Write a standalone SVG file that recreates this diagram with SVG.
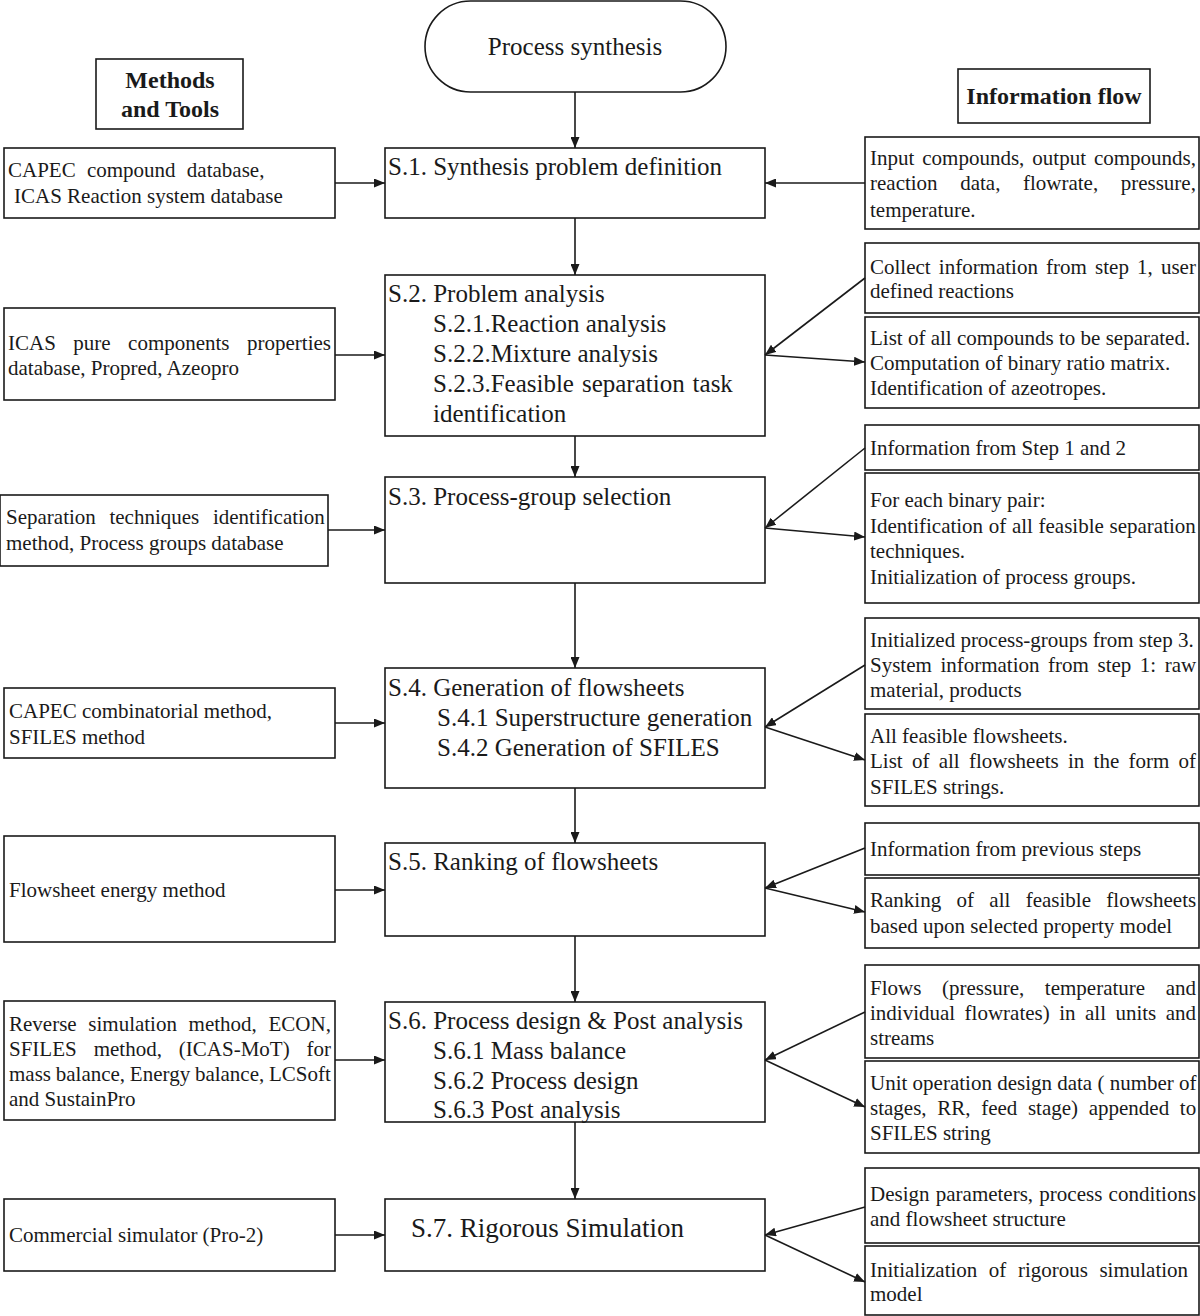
<svg xmlns="http://www.w3.org/2000/svg" width="1200" height="1316" viewBox="0 0 1200 1316">
<defs>
<marker id="ah" markerUnits="userSpaceOnUse" markerWidth="11" markerHeight="9" refX="11" refY="4.5" orient="auto">
<path d="M0,0 L11,4.5 L0,9 z" fill="#1a1a1a"/>
</marker>
<style>
rect, .term { fill: #fff; stroke: #1a1a1a; stroke-width: 1.6; }
text { font-family: "Liberation Serif", "Times New Roman", serif; fill: #1a1a1a; }
.main { font-size: 25px; }
.s7 { font-size: 27px; }
.side { font-size: 21px; }
.title { font-size: 24px; font-weight: bold; }
.conn line { stroke: #1a1a1a; stroke-width: 1.6; marker-end: url(#ah); }
</style>
</defs>
<rect width="1200" height="1316" style="fill:#fff;stroke:none"/>

<g id="start">
<rect class="term" x="425" y="1" width="301" height="91" rx="45.5" ry="45.5"/>
<text class="main" x="575" y="55" text-anchor="middle">Process synthesis</text>
</g>
<g id="methods-title">
<rect x="96" y="59" width="147" height="70"/>
<text class="title" x="170" y="88" text-anchor="middle">Methods</text>
<text class="title" x="170" y="117" text-anchor="middle">and Tools</text>
</g>
<g id="info-title">
<rect x="958" y="69" width="192" height="54"/>
<text class="title" x="1054" y="104" text-anchor="middle">Information flow</text>
</g>

<g id="s1">
<rect x="385" y="148" width="380" height="70"/>
<text class="main" x="388" y="175">S.1. Synthesis problem definition</text>
</g>
<g id="s2">
<rect x="385" y="275" width="380" height="161"/>
<text class="main" x="388" y="302">S.2. Problem analysis</text>
<text class="main" x="433" y="332">S.2.1.Reaction analysis</text>
<text class="main" x="433" y="362">S.2.2.Mixture analysis</text>
<text class="main" x="433" y="392" word-spacing="1.7">S.2.3.Feasible separation task</text>
<text class="main" x="433" y="422">identification</text>
</g>
<g id="s3">
<rect x="385" y="477" width="380" height="106"/>
<text class="main" x="388" y="505">S.3. Process-group selection</text>
</g>
<g id="s4">
<rect x="385" y="668" width="380" height="120"/>
<text class="main" x="388" y="696">S.4. Generation of flowsheets</text>
<text class="main" x="437" y="726">S.4.1 Superstructure generation</text>
<text class="main" x="437" y="756">S.4.2 Generation of SFILES</text>
</g>
<g id="s5">
<rect x="385" y="843" width="380" height="93"/>
<text class="main" x="388" y="870">S.5. Ranking of flowsheets</text>
</g>
<g id="s6">
<rect x="385" y="1002" width="380" height="120"/>
<text class="main" x="388" y="1029">S.6. Process design &amp; Post analysis</text>
<text class="main" x="433" y="1059">S.6.1 Mass balance</text>
<text class="main" x="433" y="1089">S.6.2 Process design</text>
<text class="main" x="433" y="1118">S.6.3 Post analysis</text>
</g>
<g id="s7">
<rect x="385" y="1199" width="380" height="72"/>
<text class="s7" x="411" y="1237">S.7. Rigorous Simulation</text>
</g>

<g id="m1">
<rect x="4" y="148" width="331" height="70"/>
<text class="side" x="8" y="177" word-spacing="6">CAPEC compound database,</text>
<text class="side" x="14" y="203">ICAS Reaction system database</text>
</g>
<g id="m2">
<rect x="4" y="308" width="331" height="92"/>
<text class="side" x="8" y="350" word-spacing="12.2">ICAS pure components properties</text>
<text class="side" x="8" y="375">database, Propred, Azeopro</text>
</g>
<g id="m3">
<rect x="0" y="495" width="328" height="71"/>
<text class="side" x="6" y="524" word-spacing="8.4">Separation techniques identification</text>
<text class="side" x="6" y="550">method, Process groups database</text>
</g>
<g id="m4">
<rect x="4" y="688" width="331" height="70"/>
<text class="side" x="9" y="718">CAPEC combinatorial method,</text>
<text class="side" x="9" y="744">SFILES method</text>
</g>
<g id="m5">
<rect x="4" y="836" width="331" height="106"/>
<text class="side" x="9" y="897">Flowsheet energy method</text>
</g>
<g id="m6">
<rect x="4" y="1001" width="331" height="119"/>
<text class="side" x="9" y="1031" word-spacing="6.4">Reverse simulation method, ECON,</text>
<text class="side" x="9" y="1056" word-spacing="11.7">SFILES method, (ICAS-MoT) for</text>
<text class="side" x="9" y="1081" word-spacing="-0.5">mass balance, Energy balance, LCSoft</text>
<text class="side" x="9" y="1106">and SustainPro</text>
</g>
<g id="m7">
<rect x="4" y="1199" width="331" height="72"/>
<text class="side" x="9" y="1242">Commercial simulator (Pro-2)</text>
</g>

<g id="i1">
<rect x="865" y="137" width="334" height="92"/>
<text class="side" x="870" y="165" word-spacing="2.7">Input compounds, output compounds,</text>
<text class="side" x="870" y="190" word-spacing="17.3">reaction data, flowrate, pressure,</text>
<text class="side" x="870" y="217">temperature.</text>
</g>
<g id="i2a">
<rect x="865" y="243" width="334" height="70"/>
<text class="side" x="870" y="274" word-spacing="2.9">Collect information from step 1, user</text>
<text class="side" x="870" y="298">defined reactions</text>
</g>
<g id="i2b">
<rect x="865" y="317" width="334" height="91"/>
<text class="side" x="870" y="345">List of all compounds to be separated.</text>
<text class="side" x="870" y="370">Computation of binary ratio matrix.</text>
<text class="side" x="870" y="395">Identification of azeotropes.</text>
</g>
<g id="i3a">
<rect x="865" y="425" width="334" height="45"/>
<text class="side" x="870" y="455">Information from Step 1 and 2</text>
</g>
<g id="i3b">
<rect x="865" y="473" width="334" height="130"/>
<text class="side" x="870" y="507">For each binary pair:</text>
<text class="side" x="870" y="533" word-spacing="0.4">Identification of all feasible separation</text>
<text class="side" x="870" y="558">techniques.</text>
<text class="side" x="870" y="584">Initialization of process groups.</text>
</g>
<g id="i4a">
<rect x="865" y="618" width="334" height="91"/>
<text class="side" x="870" y="647">Initialized process-groups from step 3.</text>
<text class="side" x="870" y="672" word-spacing="3.3">System information from step 1: raw</text>
<text class="side" x="870" y="697">material, products</text>
</g>
<g id="i4b">
<rect x="865" y="714" width="334" height="92"/>
<text class="side" x="870" y="743">All feasible flowsheets.</text>
<text class="side" x="870" y="768" word-spacing="4">List of all flowsheets in the form of</text>
<text class="side" x="870" y="794">SFILES strings.</text>
</g>
<g id="i5a">
<rect x="865" y="823" width="334" height="52"/>
<text class="side" x="870" y="856">Information from previous steps</text>
</g>
<g id="i5b">
<rect x="865" y="878" width="334" height="70"/>
<text class="side" x="870" y="907" word-spacing="10.1">Ranking of all feasible flowsheets</text>
<text class="side" x="870" y="933">based upon selected property model</text>
</g>
<g id="i6a">
<rect x="865" y="965" width="334" height="93"/>
<text class="side" x="870" y="995" word-spacing="15.4">Flows (pressure, temperature and</text>
<text class="side" x="870" y="1020" word-spacing="4.2">individual flowrates) in all units and</text>
<text class="side" x="870" y="1045">streams</text>
</g>
<g id="i6b">
<rect x="865" y="1061" width="334" height="92"/>
<text class="side" x="870" y="1090">Unit operation design data ( number of</text>
<text class="side" x="870" y="1115" word-spacing="5.4">stages, RR, feed stage) appended to</text>
<text class="side" x="870" y="1140">SFILES string</text>
</g>
<g id="i7a">
<rect x="865" y="1168" width="334" height="75"/>
<text class="side" x="870" y="1201" word-spacing="1">Design parameters, process conditions</text>
<text class="side" x="870" y="1226">and flowsheet structure</text>
</g>
<g id="i7b">
<rect x="865" y="1246" width="334" height="69"/>
<text class="side" x="870" y="1277" word-spacing="6.3">Initialization of rigorous simulation</text>
<text class="side" x="870" y="1301">model</text>
</g>

<g id="connectors" class="conn">
<line x1="575" y1="92" x2="575" y2="148"/>
<line x1="575" y1="218" x2="575" y2="275"/>
<line x1="575" y1="436" x2="575" y2="477"/>
<line x1="575" y1="583" x2="575" y2="668"/>
<line x1="575" y1="788" x2="575" y2="843"/>
<line x1="575" y1="936" x2="575" y2="1002"/>
<line x1="575" y1="1122" x2="575" y2="1199"/>

<line x1="335" y1="183" x2="385" y2="183"/>
<line x1="335" y1="355" x2="385" y2="355"/>
<line x1="328" y1="530" x2="385" y2="530"/>
<line x1="335" y1="723" x2="385" y2="723"/>
<line x1="335" y1="890" x2="385" y2="890"/>
<line x1="335" y1="1060" x2="385" y2="1060"/>
<line x1="335" y1="1235" x2="385" y2="1235"/>

<line x1="865" y1="183" x2="765" y2="183"/>
<line x1="865" y1="278" x2="765" y2="355"/>
<line x1="765" y1="355" x2="865" y2="362"/>
<line x1="865" y1="448" x2="765" y2="528"/>
<line x1="765" y1="528" x2="865" y2="537"/>
<line x1="865" y1="665" x2="765" y2="727"/>
<line x1="765" y1="727" x2="865" y2="760"/>
<line x1="865" y1="848" x2="765" y2="888"/>
<line x1="765" y1="888" x2="865" y2="912"/>
<line x1="865" y1="1012" x2="765" y2="1060"/>
<line x1="765" y1="1060" x2="865" y2="1107"/>
<line x1="865" y1="1207" x2="765" y2="1235"/>
<line x1="765" y1="1235" x2="865" y2="1282"/>
</g>
</svg>
